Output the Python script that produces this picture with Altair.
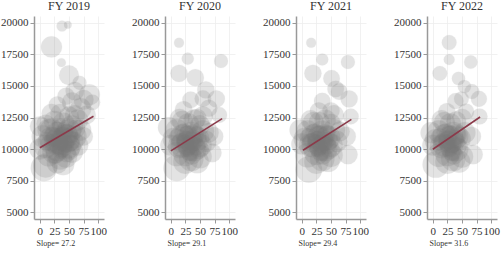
import altair as alt
import pandas as pd

years = ["FY 2019", "FY 2020", "FY 2021", "FY 2022"]
slope_labels = ["Slope= 27.2", "Slope= 29.1", "Slope= 29.4", "Slope= 31.6"]

# regression line endpoints (x0, x1) and fitted values
line_x0 = [0, 0, 2, 0]
line_x1 = [92, 88, 85, 81]
line_y0 = [10100, 9850, 9900, 9980]
line_y1 = [12600, 12410, 12350, 12540]

# bubbles: x, y, size (area px^2)
x_2019 = [38, 48, 20, 37, 50, 68, 85, 60, 45, 75, 90, 30, 55, 80, 70,
          5, 10, 15, 20, 25, 30, 35, 40, 45, 50, 55, 60, 65, 70, 25, 15, 35, 45, 55, 10,
          40, 0, 0, 60, 20, 35, 50, 30, 40, 20, 50, 65, 75, 10, 30, 7, 28, 48,
          18, 28, 38, 48, 58, 22, 32, 42, 52, 62, 12, 26, 36, 46,
          33, 43, 38, 28, 48, 35, 42, 24, 53, 30]
y_2019 = [19750, 19850, 18100, 16850, 15850, 15250, 14300, 14600, 14200, 13900, 13700, 13500, 13700, 12700, 13200,
          11000, 10200, 11500, 10800, 9800, 11200, 10500, 12000, 11000, 10200, 11800, 11000, 12300, 11500, 12200, 9500, 9300, 9400, 9800, 8700,
          8800, 11800, 10000, 12700, 12800, 12800, 12600, 10000, 10800, 11500, 11400, 10300, 11000, 12000, 8900, 8500, 10600, 10700,
          10400, 10900, 10100, 11200, 10600, 11000, 10300, 11400, 9900, 11600, 10600, 9600, 11700, 9700,
          10600, 10400, 11000, 10200, 10900, 9900, 11300, 10800, 10500, 11500]
s_2019 = [120, 60, 450, 80, 400, 200, 450, 350, 300, 400, 250, 300, 400, 350, 450,
          500, 550, 500, 600, 600, 600, 600, 500, 600, 550, 500, 550, 450, 450, 450, 500, 550, 500, 500, 600,
          500, 400, 450, 400, 400, 400, 400, 600, 600, 550, 600, 450, 350, 350, 450, 700, 600, 600,
          400, 400, 400, 400, 400, 350, 350, 350, 350, 350, 350, 350, 350, 350,
          350, 350, 350, 350, 350, 300, 300, 300, 300, 300]

x_2020 = [14, 29, 86, 14, 42, 60, 78, 55, 34, 65, 83, 22, 45, 74, 71, 10, -4,
          5, 10, 15, 20, 25, 30, 35, 40, 45, 50, 55, 60, 20, 30, 40, 50, 10, 25, 35, 45, 0, 15, 55, 65, 30, 40, 20, 50,
          18, 28, 38, 48, 22, 32, 42, 12, 26, 36,
          33, 43, 38, 28, 48, 35, 24, 30]
y_2020 = [18420, 17160, 16980, 16000, 15660, 14690, 13980, 14000, 13900, 13240, 12700, 13100, 12450, 11000, 9700, 8500, 11700,
          10800, 11500, 10200, 11000, 9600, 10500, 11200, 10000, 10800, 9400, 11400, 10600, 12200, 12000, 12300, 11900, 9600, 9000, 9200, 9000, 10300, 12400, 12600, 11300, 10900, 11000, 10300, 10300,
          10500, 10200, 10600, 10000, 11300, 9800, 11100, 10900, 10700, 9500,
          10400, 10200, 10800, 10000, 10600, 9700, 10500, 11200]
s_2020 = [100, 150, 200, 300, 300, 300, 300, 280, 280, 300, 250, 320, 350, 350, 350, 700, 450,
          500, 500, 550, 600, 600, 600, 600, 600, 600, 550, 500, 450, 450, 450, 450, 400, 600, 600, 600, 550, 450, 400, 400, 400, 600, 600, 600, 550,
          400, 400, 400, 400, 350, 350, 350, 350, 350, 350,
          350, 350, 350, 300, 300, 300, 300, 300]

x_2021 = [16, 35, 79, 19, 51, 64, 81, 58, 35, 50, 84, 29, 76, 79, 12, -3,
          5, 10, 15, 20, 25, 30, 35, 40, 45, 50, 55, 60, 20, 30, 40, 50, 10, 25, 35, 45, 0, 15, 55, 65, 30, 40, 20, 50,
          18, 28, 38, 48, 22, 32, 42, 12, 26, 36,
          33, 43, 38, 28, 48, 35, 24, 30]
y_2021 = [18420, 17100, 16900, 16000, 15600, 14550, 13980, 14760, 13800, 13030, 12580, 13000, 11000, 9560, 8380, 11500,
          10800, 11400, 10300, 11000, 9700, 10500, 11300, 10000, 10900, 9500, 11500, 10600, 12100, 12100, 12300, 12000, 9500, 9000, 9200, 9100, 10400, 12300, 12700, 11400, 10900, 11000, 10300, 10300,
          10500, 10200, 10600, 10000, 11300, 9800, 11100, 10900, 10700, 9500,
          10400, 10300, 10800, 10000, 10600, 9700, 10500, 11200]
s_2021 = [100, 150, 200, 300, 280, 280, 300, 280, 280, 300, 250, 320, 380, 380, 700, 450,
          500, 500, 550, 600, 600, 600, 600, 600, 600, 550, 500, 450, 450, 450, 450, 400, 600, 600, 600, 550, 450, 400, 400, 400, 600, 600, 600, 550,
          400, 400, 400, 400, 350, 350, 350, 350, 350, 350,
          350, 350, 350, 300, 300, 300, 300, 300]

x_2022 = [28, 28, 65, 12, 44, 54, 67, 79, 49, 39, 57, 80, 24, 66, 69, 5, -3,
          5, 10, 15, 20, 25, 30, 35, 40, 45, 50, 55, 20, 30, 40, 10, 25, 35, 45, 0, 15, 50, 30, 40, 20,
          18, 28, 38, 22, 32, 42, 12, 26, 36,
          33, 38, 28, 43, 35, 24, 30]
y_2022 = [18450, 17100, 16900, 16000, 15600, 14950, 14560, 13980, 13980, 13800, 12970, 12580, 12970, 11000, 9560, 8770, 11300,
          10700, 11400, 10200, 11000, 9600, 10600, 11200, 10000, 10800, 9400, 11300, 12100, 12000, 12200, 9500, 9000, 9200, 9000, 10300, 12300, 12400, 10900, 11000, 10300,
          10500, 10200, 10600, 11300, 9800, 11100, 10900, 10700, 9500,
          10400, 10800, 10000, 10200, 9700, 10500, 11200]
s_2022 = [220, 120, 180, 220, 180, 180, 220, 260, 220, 260, 260, 260, 300, 380, 380, 700, 450,
          500, 500, 550, 600, 600, 600, 600, 600, 550, 500, 450, 450, 450, 400, 550, 600, 600, 500, 450, 400, 400, 600, 600, 550,
          400, 400, 400, 350, 350, 350, 350, 350, 350,
          350, 350, 300, 300, 300, 300, 300]

xs = [x_2019, x_2020, x_2021, x_2022]
ys = [y_2019, y_2020, y_2021, y_2022]
ss = [s_2019, s_2020, s_2021, s_2022]

FONT = "Liberation Serif"

panels = []
for i, yr in enumerate(years):
    pts = pd.DataFrame({"x": xs[i], "y": ys[i], "s": ss[i]})
    ln = pd.DataFrame({"x": [line_x0[i], line_x1[i]], "y": [line_y0[i], line_y1[i]]})
    xenc = alt.X("x:Q", scale=alt.Scale(domain=[-10, 110], nice=False, zero=False),
                 axis=alt.Axis(values=[0, 25, 50, 75, 100], title=slope_labels[i], format="d",
                               labelOverlap=False, labelFlush=False,
                               titleAnchor="start", titleFontSize=8, titleFontWeight="normal",
                               titlePadding=3, titleX=2))
    yenc = alt.Y("y:Q", scale=alt.Scale(domain=[4450, 20550], nice=False, zero=False),
                 axis=alt.Axis(values=[5000, 7500, 10000, 12500, 15000, 17500, 20000], title=None,
                               format="d", labelOverlap=False, labelFlush=False))
    bubbles = alt.Chart(pts).mark_circle(color="#777777", opacity=0.2, stroke="#999999",
                                         strokeWidth=0.6, strokeOpacity=0.25).encode(
        x=xenc, y=yenc, size=alt.Size("s:Q", scale=None, legend=None))
    line = alt.Chart(ln).mark_line(color="#8b3a4a", strokeWidth=1.6).encode(x=xenc, y=yenc)
    p = (bubbles + line).properties(width=70, height=203,
                                    title=alt.TitleParams(yr, fontSize=12, fontWeight="normal",
                                                          font=FONT, color="#333", offset=3))
    panels.append(p)

chart = alt.hconcat(*panels, spacing=24).properties(
    padding={"left": 0, "top": 0, "right": 2, "bottom": 2}
).configure_axis(
    labelFont=FONT, titleFont=FONT, labelFontSize=11, labelColor="#333", titleColor="#333",
    domainColor="#999", domainWidth=1.5, tickColor="#999", tickSize=4, labelPadding=2,
    gridColor="#eeeeee", gridWidth=0.8
).configure_view(stroke=None)

chart.save("out.html", embed_options={"renderer": "svg", "actions": False})
